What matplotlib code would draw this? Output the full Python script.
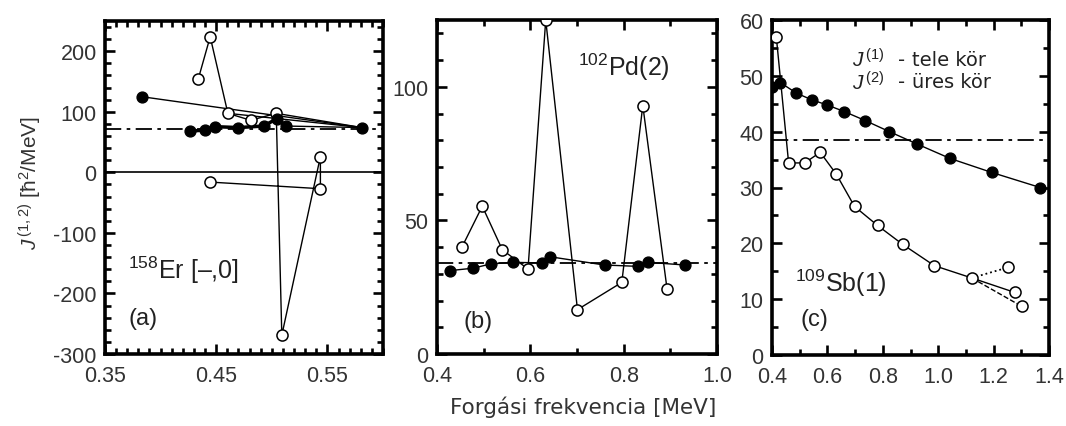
import matplotlib
matplotlib.use("Agg")
import matplotlib.pyplot as plt
from matplotlib.ticker import MultipleLocator, FixedLocator

plt.rcParams['font.family'] = ['Liberation Sans', 'DejaVu Sans']
plt.rcParams['mathtext.fontset'] = 'custom'
plt.rcParams['mathtext.rm'] = 'Liberation Sans'
plt.rcParams['mathtext.it'] = 'Liberation Sans:style=italic'
plt.rcParams['axes.unicode_minus'] = False

# ---------------- data ----------------
# (a) 158Er [-,0]
er_j1_x = [0.383, 0.581, 0.513, 0.5046, 0.4926, 0.470, 0.449, 0.440, 0.4266]
er_j1_y = [125, 74, 76.5, 88.7, 76.5, 74, 75.5, 70, 68]
er_j2_x = [0.434, 0.4446, 0.4605, 0.481, 0.504, 0.509, 0.5437, 0.5437, 0.444]
er_j2_y = [155, 224, 97.5, 86, 97.5, -269, 26, -27, -16]
er_links = [(2, 1), (4, 1)]          # extra lines: J2 point index -> J1 point index
er_ref = 72

# (b) 102Pd(2)
pd_j1_x = [0.427, 0.477, 0.515, 0.563, 0.624, 0.642, 0.759, 0.830, 0.852, 0.932]
pd_j1_y = [31.2, 32.1, 33.7, 34.3, 34.1, 36.4, 33.3, 32.8, 34.3, 33.3]
pd_j2_x = [0.454, 0.497, 0.540, 0.595, 0.633, 0.701, 0.796, 0.841, 0.893]
pd_j2_y = [40.2, 55.3, 39.0, 31.8, 125, 16.6, 26.8, 93, 24.3]
pd_ref = 34

# (c) 109Sb(1)
sb_j1_x = [0.400, 0.430, 0.488, 0.544, 0.598, 0.661, 0.736, 0.824, 0.923, 1.043, 1.193, 1.368]
sb_j1_y = [48.0, 48.8, 46.9, 45.7, 44.8, 43.6, 42.0, 40.0, 37.8, 35.2, 32.7, 30.0]
sb_j2_x = [0.4155, 0.460, 0.518, 0.574, 0.632, 0.698, 0.781, 0.872, 0.986, 1.121, 1.277]
sb_j2_y = [57.0, 34.4, 34.4, 36.3, 32.4, 26.6, 23.2, 19.8, 16.0, 13.8, 11.2]
sb_alt_dot_x = [1.121, 1.253]
sb_alt_dot_y = [13.8, 15.7]
sb_alt_dash_x = [1.121, 1.302]
sb_alt_dash_y = [13.8, 8.7]
sb_ref = 38.5

# ---------------- figure ----------------
W, H = 1066, 427
fig = plt.figure(figsize=(W / 100, H / 100), dpi=100)

def frac(l, t, r, b):
    return [l / W, 1 - b / H, (r - l) / W, (b - t) / H]

axa = fig.add_axes(frac(105, 22, 383, 355))
axb = fig.add_axes(frac(437, 21, 717, 355))
axc = fig.add_axes(frac(772, 21, 1049, 356))

tick_col = '#333333'
txt_col = '#222222'
LW = 1.0
MS_O = 8.0
MS_F = 7.8
DASHDOT = (0, (9, 3, 2, 3))

def style(ax):
    for s in ax.spines.values():
        s.set_linewidth(2.6)
    ax.tick_params(which='both', direction='in', top=True, right=True,
                   width=1.9, colors='black', labelcolor=tick_col,
                   labelsize=15.5, pad=6)
    ax.tick_params(axis='x', which='both', pad=8)
    ax.tick_params(which='major', length=7.5)
    ax.tick_params(which='minor', length=4.5)

def open_pts(ax, x, y):
    ax.plot(x, y, 'o', ms=MS_O, mfc='white', mec='black', mew=1.1, zorder=4)

def filled_pts(ax, x, y):
    ax.plot(x, y, 'o', ms=MS_F, mfc='black', mec='black', zorder=5)

# ---- (a)
ax = axa
ax.axhline(0, color='black', lw=1.2, zorder=1)
ax.axhline(er_ref, color='black', lw=1.3, linestyle=DASHDOT, zorder=1)
ax.plot(er_j1_x, er_j1_y, '-', color='black', lw=LW, zorder=2)
ax.plot(er_j1_x[2:], er_j1_y[2:], '-', color='black', lw=2.5, zorder=2)
ax.plot(er_j2_x, er_j2_y, '-', color='black', lw=LW, zorder=2)
for i, j in er_links:
    ax.plot([er_j2_x[i], er_j1_x[j]], [er_j2_y[i], er_j1_y[j]], '-',
            color='black', lw=LW, zorder=2)
open_pts(ax, er_j2_x, er_j2_y)
filled_pts(ax, er_j1_x, er_j1_y)
ax.set_xlim(0.35, 0.60)
ax.set_ylim(-300, 250)
ax.xaxis.set_major_locator(FixedLocator([0.35, 0.45, 0.55]))
ax.xaxis.set_minor_locator(MultipleLocator(0.01))
ax.yaxis.set_major_locator(MultipleLocator(100))
ax.yaxis.set_minor_locator(MultipleLocator(20))
ax.set_xticklabels(['0.35', '0.45', '0.55'])
style(ax)
ax.text(0.371, -160, r'$^{158}$Er [–,0]', fontsize=18, color=txt_col,
        ha='left', va='center')
ax.text(0.371, -240, '(a)', fontsize=17, color=txt_col, ha='left', va='center')

# ---- (b)
ax = axb
ax.axhline(pd_ref, color='black', lw=1.3, linestyle=DASHDOT, zorder=1)
ax.plot(pd_j1_x, pd_j1_y, '-', color='black', lw=LW, zorder=2)
ax.plot(pd_j2_x, pd_j2_y, '-', color='black', lw=LW, zorder=2)
open_pts(ax, pd_j2_x, pd_j2_y)
filled_pts(ax, pd_j1_x, pd_j1_y)
ax.set_xlim(0.4, 1.0)
ax.set_ylim(0, 125)
ax.xaxis.set_minor_locator(MultipleLocator(0.1))
ax.yaxis.set_major_locator(MultipleLocator(50))
ax.yaxis.set_minor_locator(MultipleLocator(10))
ax.set_xticks([0.4, 0.6, 0.8, 1.0])
ax.set_xticklabels(['0.4', '0.6', '0.8', '1.0'])
style(ax)
ax.text(0.703, 107.5, r'$^{102}$Pd(2)', fontsize=18, color=txt_col,
        ha='left', va='center')
ax.text(0.456, 12.4, '(b)', fontsize=17, color=txt_col, ha='left', va='center')

# ---- (c)
ax = axc
ax.axhline(sb_ref, color='black', lw=1.3, linestyle=DASHDOT, zorder=1)
ax.plot(sb_j1_x, sb_j1_y, '-', color='black', lw=LW, zorder=2)
ax.plot(sb_j2_x, sb_j2_y, '-', color='black', lw=LW, zorder=2)
ax.plot(sb_alt_dot_x, sb_alt_dot_y, ':', color='black', lw=1.3, zorder=2)
ax.plot(sb_alt_dash_x, sb_alt_dash_y, '--', color='black', lw=1.0, zorder=2)
open_pts(ax, sb_j2_x + [sb_alt_dot_x[1], sb_alt_dash_x[1]],
         sb_j2_y + [sb_alt_dot_y[1], sb_alt_dash_y[1]])
filled_pts(ax, sb_j1_x, sb_j1_y)
ax.set_xlim(0.4, 1.4)
ax.set_ylim(0, 60)
ax.xaxis.set_minor_locator(MultipleLocator(0.1))
ax.yaxis.set_major_locator(MultipleLocator(10))
ax.yaxis.set_minor_locator(MultipleLocator(5))
ax.set_xticks([0.4, 0.6, 0.8, 1.0, 1.2, 1.4])
ax.set_xticklabels(['0.4', '0.6', '0.8', '1.0', '1.2', '1.4'])
style(ax)
ax.text(0.483, 13.1, r'$^{109}$Sb(1)', fontsize=18, color=txt_col,
        ha='left', va='center')
ax.text(0.502, 6.4, '(c)', fontsize=17, color=txt_col, ha='left', va='center')
for yy, sup, word in [(53.0, '(1)', 'tele kör'), (48.9, '(2)', 'üres kör')]:
    ax.text(0.69, yy, r'$J^{\,%s}$' % sup, fontsize=15, color=txt_col,
            ha='left', va='center')
    ax.text(0.855, yy, '-', fontsize=14, color=txt_col, ha='left',
            va='center', family='DejaVu Sans')
    ax.text(0.905, yy, word, fontsize=14, color=txt_col, ha='left',
            va='center', family='DejaVu Sans')

# ---- shared labels
fig.text(30 / W, 1 - 183 / H, r'$J^{\,(1,2)}$ [ħ$^2$/MeV]', rotation=90,
         fontsize=15, color=tick_col, ha='center', va='center')
fig.text(583 / W, 1 - 407 / H, 'Forgási frekvencia [MeV]', fontsize=15.5,
         color='#333333', ha='center', va='center', family='DejaVu Sans')

fig.savefig('out.png', dpi=100)
